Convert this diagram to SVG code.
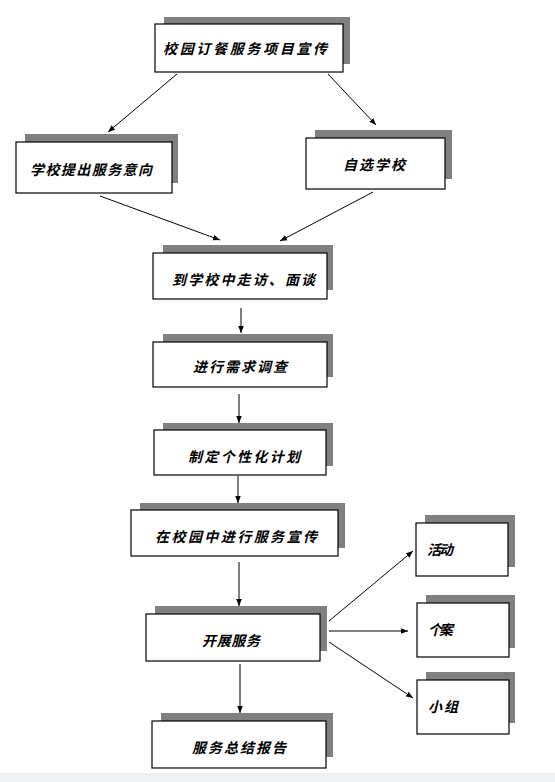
<svg xmlns="http://www.w3.org/2000/svg" width="555" height="782" viewBox="0 0 555 782">
<style>
.sh{fill:#808080}
.bx{fill:#fff;stroke:#000;stroke-width:1.2}
.t{font-family:"Liberation Serif","Noto Sans CJK SC",serif;font-size:14px;font-style:italic;font-weight:bold;fill:#000}
.c line{stroke:#000;stroke-width:1;marker-end:url(#ah)}
</style>
<defs>
<marker id="ah" viewBox="0 0 10 10" refX="10" refY="5" markerWidth="7" markerHeight="7" markerUnits="userSpaceOnUse" orient="auto">
<path d="M0,1 L10,5 L0,9 z" fill="#000"/>
</marker>
</defs>
<rect width="555" height="782" fill="#fff"/>
<rect x="0" y="773" width="555" height="9" fill="#eef0f3"/>
<g id="n1"><rect class="sh" x="164" y="17" width="186" height="47"/><rect class="bx" x="155" y="24" width="188" height="48"/><text class="t" x="163" y="54" textLength="164" lengthAdjust="spacing">校园订餐服务项目宣传</text></g>
<g id="n2"><rect class="sh" x="25" y="134" width="153" height="49"/><rect class="bx" x="16" y="142" width="156" height="51"/><text class="t" x="30" y="175" textLength="122" lengthAdjust="spacing">学校提出服务意向</text></g>
<g id="n3"><rect class="sh" x="315" y="130" width="137" height="49"/><rect class="bx" x="306" y="138" width="139" height="51"/><text class="t" x="343" y="170" textLength="62" lengthAdjust="spacing">自选学校</text></g>
<g id="n4"><rect class="sh" x="163" y="245" width="170" height="45"/><rect class="bx" x="153" y="253" width="174" height="46"/><text class="t" x="172" y="285" textLength="143" lengthAdjust="spacing">到学校中走访、面谈</text></g>
<g id="n5"><rect class="sh" x="163" y="334" width="170" height="43"/><rect class="bx" x="153" y="342" width="174" height="45"/><text class="t" x="193" y="372" textLength="94" lengthAdjust="spacing">进行需求调查</text></g>
<g id="n6"><rect class="sh" x="163" y="423" width="170" height="43"/><rect class="bx" x="154" y="430" width="172" height="45"/><text class="t" x="188" y="462" textLength="112" lengthAdjust="spacing">制定个性化计划</text></g>
<g id="n7"><rect class="sh" x="140" y="503" width="205" height="45"/><rect class="bx" x="131" y="510" width="207" height="46"/><text class="t" x="155" y="542" textLength="162" lengthAdjust="spacing">在校园中进行服务宣传</text></g>
<g id="n8"><rect class="sh" x="155" y="606" width="172" height="45"/><rect class="bx" x="146" y="614" width="174" height="47"/><text class="t" x="202" y="646" textLength="58" lengthAdjust="spacing">开展服务</text></g>
<g id="n9"><rect class="sh" x="161" y="713" width="172" height="44"/><rect class="bx" x="152" y="721" width="174" height="47"/><text class="t" x="192" y="753" textLength="94" lengthAdjust="spacing">服务总结报告</text></g>
<g id="n10"><rect class="sh" x="425" y="515" width="90" height="52"/><rect class="bx" x="416" y="523" width="92" height="53"/><text class="t" x="427" y="555" textLength="26" lengthAdjust="spacing">活动</text></g>
<g id="n11"><rect class="sh" x="426" y="595" width="89" height="53"/><rect class="bx" x="417" y="603" width="92" height="54"/><text class="t" x="428" y="635" textLength="25" lengthAdjust="spacing">个案</text></g>
<g id="n12"><rect class="sh" x="426" y="672" width="89" height="51"/><rect class="bx" x="417" y="680" width="92" height="54"/><text class="t" x="428" y="712" textLength="30" lengthAdjust="spacing">小组</text></g>
<g class="c">
<line x1="177" y1="74" x2="108" y2="132"/>
<line x1="328" y1="74" x2="376" y2="125"/>
<line x1="100" y1="196" x2="220" y2="240"/>
<line x1="373" y1="192" x2="280" y2="241"/>
<line x1="241" y1="308" x2="241" y2="333"/>
<line x1="239" y1="394" x2="239" y2="423"/>
<line x1="238" y1="476" x2="238" y2="503"/>
<line x1="239" y1="562" x2="239" y2="606"/>
<line x1="240" y1="664" x2="240" y2="713"/>
<line x1="329" y1="621" x2="413" y2="551"/>
<line x1="329" y1="631" x2="408" y2="631"/>
<line x1="329" y1="642" x2="413" y2="698"/>
</g>
</svg>
